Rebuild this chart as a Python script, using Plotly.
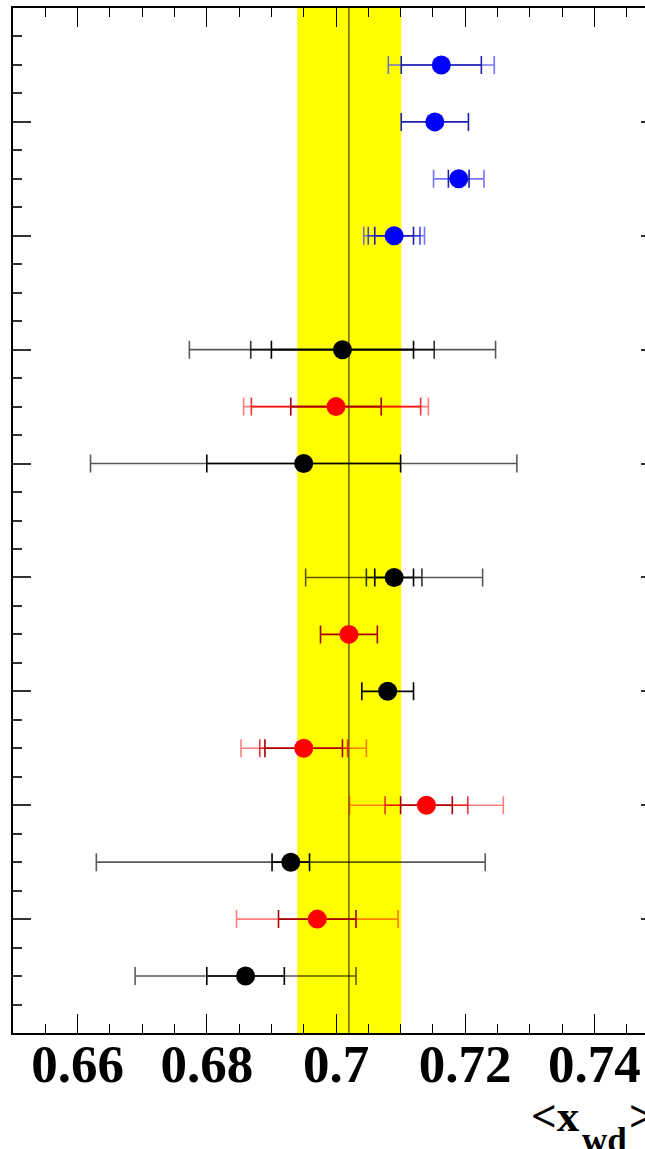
import plotly.graph_objects as go

# ---------------- data ----------------
mean_value = 0.702
band_low = 0.694
band_high = 0.7101

blue_y = [17, 16, 15, 14]
blue_x = [0.7163, 0.7153, 0.7190, 0.7090]
blue_err_inner = [0.0062, 0.0052, 0.0016, 0.0030]
blue_err_mid = [None, None, None, 0.0040]
blue_err_outer = [0.0082, None, 0.0039, 0.0047]

black_y = [12, 10, 8, 6, 3, 1]
black_x = [0.7010, 0.6950, 0.7090, 0.7080, 0.6930, 0.6860]
black_err_inner = [0.0110, 0.0150, 0.0030, 0.0040, 0.0029, 0.0060]
black_err_mid = [0.0142, None, 0.0043, None, None, None]
black_err_outer = [0.0237, 0.0330, 0.0137, None, 0.0301, 0.0171]

red_y = [11, 7, 5, 4, 2]
red_x = [0.7000, 0.7020, 0.6950, 0.7140, 0.6971]
red_err_inner = [0.0070, 0.0044, 0.0060, 0.0040, 0.0060]
red_err_mid = [0.0131, None, 0.0068, 0.0064, None]
red_err_outer = [0.0143, None, 0.0097, 0.0119, 0.0125]

stray_x = [0.6487]
stray_y = [6.86]

x_tick_vals = [0.66, 0.68, 0.70, 0.72, 0.74]
x_tick_text = ["0.66", "0.68", "0.7", "0.72", "0.74"]

groups = [
    ("blue", blue_x, blue_y, [blue_err_outer, blue_err_mid, blue_err_inner],
     ["rgba(70,70,255,0.75)", "rgba(40,40,220,0.85)", "rgb(30,30,175)"], "#0000ff"),
    ("black", black_x, black_y, [black_err_outer, black_err_mid, black_err_inner],
     ["rgba(0,0,0,0.65)", "rgba(0,0,0,0.8)", "rgb(0,0,0)"], "#000000"),
    ("red", red_x, red_y, [red_err_outer, red_err_mid, red_err_inner],
     ["rgba(255,0,0,0.5)", "rgba(240,0,0,0.8)", "rgb(165,0,0)"], "#ff0000"),
]

fig = go.Figure()

for name, xs, ys, err_levels, err_colors, mcolor in groups:
    for errs, ecol in zip(err_levels, err_colors):
        px = [x for x, e in zip(xs, errs) if e is not None]
        py = [y for y, e in zip(ys, errs) if e is not None]
        pe = [e for e in errs if e is not None]
        if not px:
            continue
        fig.add_trace(go.Scatter(
            x=px, y=py, mode="markers",
            marker=dict(size=1, color="rgba(0,0,0,0)"),
            error_x=dict(type="data", array=pe, symmetric=True,
                         color=ecol, thickness=1.6, width=9),
            showlegend=False, hoverinfo="skip"))

for name, xs, ys, err_levels, err_colors, mcolor in groups:
    fig.add_trace(go.Scatter(
        x=xs, y=ys, mode="markers",
        marker=dict(size=19, color=mcolor, symbol="circle", line=dict(width=0)),
        showlegend=False, name=name))

fig.add_trace(go.Scatter(
    x=stray_x, y=stray_y, mode="markers",
    marker=dict(size=8, color="#ff0000"), cliponaxis=False,
    showlegend=False, hoverinfo="skip"))

fig.add_shape(type="rect", xref="x", yref="paper", x0=band_low, x1=band_high,
              y0=0, y1=1, fillcolor="#ffff00", line=dict(width=0), layer="below")
fig.add_shape(type="line", xref="x", yref="paper", x0=mean_value, x1=mean_value,
              y0=0, y1=1, line=dict(color="rgba(0,0,0,0.7)", width=1.3), layer="below")

title_font = dict(family="Liberation Serif", size=45, color="black", weight="bold")
sub_font = dict(family="Liberation Serif", size=35, color="black", weight="bold")
fig.add_annotation(text="&lt;x", xref="paper", yref="paper", x=1.0, y=0.0,
                   xanchor="right", yanchor="middle", xshift=-78, yshift=-83,
                   showarrow=False, font=title_font, borderpad=0)
fig.add_annotation(text="wd", xref="paper", yref="paper", x=1.0, y=0.0,
                   xanchor="left", yanchor="middle", xshift=-78, yshift=-107,
                   showarrow=False, font=sub_font, borderpad=0)
fig.add_annotation(text="&gt;", xref="paper", yref="paper", x=1.0, y=0.0,
                   xanchor="left", yanchor="middle", xshift=-31, yshift=-83,
                   showarrow=False, font=title_font, borderpad=0)

fig.update_xaxes(
    range=[0.65, 0.75], tickvals=x_tick_vals, ticktext=x_tick_text,
    ticks="inside", ticklen=19, tickwidth=1.2, tickcolor="black",
    minor=dict(dtick=0.005, tick0=0.65, ticks="inside", ticklen=9, tickwidth=1.2, tickcolor="black"),
    showline=True, linecolor="black", linewidth=2, mirror="allticks",
    showgrid=False, zeroline=False, ticklabelstandoff=-17,
    tickfont=dict(family="Liberation Serif", size=53, color="black", weight="bold"),
)
fig.update_yaxes(
    range=[0, 18], dtick=2, tick0=0, showticklabels=False,
    ticks="inside", ticklen=18, tickwidth=1.5, tickcolor="#333",
    minor=dict(dtick=0.5, ticks="inside", ticklen=9, tickwidth=1.5, tickcolor="#333"),
    showline=True, linecolor="black", linewidth=2, mirror="allticks",
    showgrid=False, zeroline=False,
)

fig.update_layout(
    width=700, height=1149,
    margin=dict(l=13, r=41, t=6, b=116, pad=0),
    plot_bgcolor="white", paper_bgcolor="white",
    showlegend=False,
)

fig.write_html(
    "out.html",
    config={"displayModeBar": False},
    post_script="document.body.style.margin='0';document.body.style.overflow='hidden';"
                "document.documentElement.style.overflow='hidden';")
